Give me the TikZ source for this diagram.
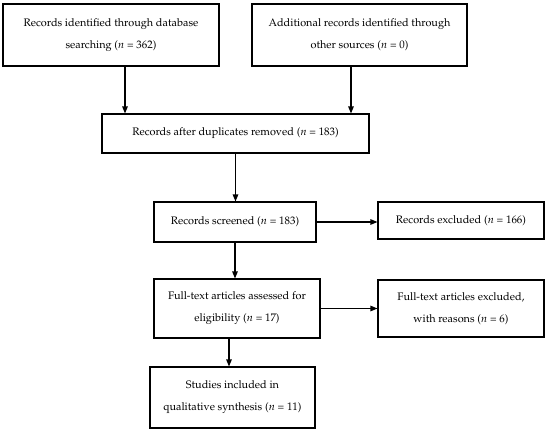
\documentclass[tikz,border=0pt]{standalone}
\usepackage[T1]{fontenc}
\usepackage{mathpazo}
\usepackage{tikz}
\usetikzlibrary{arrows.meta,calc}

\begin{document}
\begin{tikzpicture}[x=1pt,y=-1pt,
  flowbox/.style={draw,line width=1.1pt,align=center,inner sep=2pt,
    font=\fontsize{10.9}{22}\selectfont},
  flowarrow/.style={line width=1.1pt,-{Triangle[length=7pt,width=5.5pt]}}]
\useasboundingbox (0,0) rectangle (550,434);
% identification
\node[flowbox,minimum width=216pt,minimum height=62pt] (ident) at (111,35) {Records identified through database\\searching ($n$ = 362)};
\node[flowbox,minimum width=215pt,minimum height=62pt] (other) at (359.5,35) {Additional records identified through\\other sources ($n$ = 0)};
\node[flowbox,minimum width=267pt,minimum height=39pt] (dupl) at (235.5,133.5) {Records after duplicates removed ($n$ = 183)};
% screening
\node[flowbox,minimum width=162pt,minimum height=40pt] (screen) at (235,222) {Records screened ($n$ = 183)};
\node[flowbox,minimum width=166pt,minimum height=37pt] (excl) at (461,220.5) {Records excluded ($n$ = 166)};
% eligibility
\node[flowbox,minimum width=166pt,minimum height=59pt] (full) at (237,308.5) {Full-text articles assessed for\\eligibility ($n$ = 17)};
\node[flowbox,minimum width=166pt,minimum height=57pt] (fullexcl) at (461,308.5) {Full-text articles excluded,\\with reasons ($n$ = 6)};
% included
\node[flowbox,minimum width=165pt,minimum height=61pt] (incl) at (232.5,397.5) {Studies included in\\qualitative synthesis ($n$ = 11)};
% arrows
\draw[flowarrow] ([xshift=14pt]ident.south) -- ([xshift=14pt]ident.south |- dupl.north);
\draw[flowarrow] ([xshift=-8.5pt]other.south) -- ([xshift=-8.5pt]other.south |- dupl.north);
\draw[flowarrow] (dupl.south) -- (dupl.south |- screen.north);
\draw[flowarrow] (screen.east) -- (screen.east -| excl.west);
\draw[flowarrow] (screen.south) -- (screen.south |- full.north);
\draw[flowarrow] (full.east) -- (full.east -| fullexcl.west);
\draw[flowarrow] ([xshift=-8pt]full.south) -- ([xshift=-8pt]full.south |- incl.north);
\end{tikzpicture}
\end{document}
